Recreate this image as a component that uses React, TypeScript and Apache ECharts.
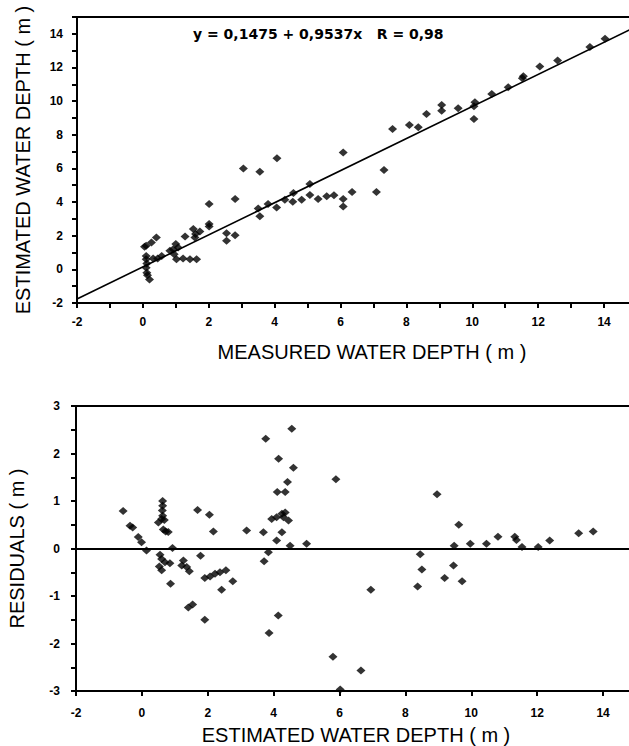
import React, { useEffect, useRef } from 'react';
import * as echarts from 'echarts';

// Top panel: measured vs estimated water depth (m)
const measuredDepth = [
  0.05, 0.1, 0.26, 0.41, 0.1, 0.1, 0.12, 0.1, 0.12, 0.14, 0.2, 0.31, 0.45, 0.57,
  0.82, 0.92, 1.0, 1.07, 1.02, 1.22, 1.43, 1.63, 0.95,
  1.28, 1.53, 1.73, 1.58, 1.6,
  2.01, 2.01, 2.01,
  2.54, 2.54, 2.8, 2.8,
  3.05, 3.55, 4.07,
  3.5, 3.55, 3.8, 4.06, 4.31, 4.57, 4.55, 4.82, 5.07, 5.07, 5.32, 5.58, 5.8, 6.08, 6.08, 6.35, 6.08, 7.09, 7.32,
  7.58, 8.09, 8.36, 8.61, 9.07, 9.07, 9.57, 10.08, 10.05, 10.05, 10.59, 11.09, 11.55, 11.52, 12.05, 12.59, 13.57, 14.03,
];
const estimatedDepth = [
  1.35, 1.4, 1.6, 1.9, 0.8, 0.6, 0.35, 0.1, -0.2, -0.35, -0.6, 0.65, 0.65, 0.8,
  1.1, 1.2, 1.5, 1.3, 0.6, 0.65, 0.6, 0.6, 0.9,
  1.95, 2.4, 2.25, 1.9, 2.1,
  3.88, 2.7, 2.55,
  2.15, 1.7, 2.03, 4.18,
  6.0, 5.8, 6.6,
  3.62, 3.15, 3.88, 3.68, 4.14, 4.54, 4.02, 4.14, 5.07, 4.42, 4.18, 4.34, 4.4, 4.18, 3.74, 4.6, 6.94, 4.6, 5.9,
  8.34, 8.58, 8.44, 9.24, 9.77, 9.43, 9.57, 9.93, 9.69, 8.94, 10.43, 10.83, 11.48, 11.36, 12.06, 12.42, 13.21, 13.71,
];
const regIntercept = 0.1475;
const regSlope = 0.9537;
const regLineX = [-2, 15];

// Bottom panel: estimated depth vs residuals (m)
const residualX = [
  -0.57, -0.36, -0.28, -0.11, -0.01, 0.14,
  0.63, 0.63, 0.62, 0.63, 0.6, 0.5, 0.68, 0.65, 0.72, 0.8,
  0.93, 0.55, 0.6, 0.7, 0.85, 0.53, 0.6, 0.87,
  1.26, 1.21, 1.36, 1.44, 1.78,
  1.91, 2.07, 2.22, 2.37, 2.55, 2.42, 2.76,
  1.41, 1.54, 1.91,
  1.69, 2.05, 2.17, 3.18, 3.69,
  3.76, 4.55, 4.15, 4.6, 4.42, 4.11, 4.35,
  3.94, 4.09, 4.25, 4.35, 4.45, 4.3,
  4.25, 4.09, 4.5, 5.0, 3.84, 3.71, 4.14, 3.86,
  5.89, 5.8, 6.65, 6.02, 6.95,
  8.45, 8.5, 8.37, 8.96, 9.19, 9.46, 9.72, 9.62, 9.48, 9.97, 10.46, 10.81, 11.32, 11.37, 11.54, 12.03, 12.38, 13.26, 13.7,
];
const residualY = [
  0.79, 0.48, 0.44, 0.24, 0.13, -0.04,
  1.0, 0.9, 0.8, 0.69, 0.62, 0.55, 0.6, 0.4, 0.36, 0.35,
  0.01, -0.13, -0.22, -0.29, -0.31, -0.38, -0.46, -0.74,
  -0.25, -0.36, -0.39, -0.48, -0.15,
  -0.62, -0.59, -0.53, -0.5, -0.46, -0.87, -0.69,
  -1.24, -1.18, -1.5,
  0.81, 0.71, 0.36, 0.38, 0.34,
  2.31, 2.52, 1.89, 1.7, 1.4, 1.19, 1.19,
  0.62, 0.66, 0.73, 0.76, 0.59, 0.66,
  0.34, 0.17, 0.06, 0.1, -0.08, -0.27, -1.41, -1.78,
  1.46, -2.28, -2.57, -2.97, -0.87,
  -0.12, -0.44, -0.8, 1.14, -0.62, -0.36, -0.69, 0.5, 0.06, 0.1, 0.1, 0.25, 0.25, 0.18, 0.03, 0.03, 0.17, 0.32, 0.36,
];
const residualZero = 0;

const equationText = 'y = 0,1475 + 0,9537x   R = 0,98';
const topXTitle = 'MEASURED WATER DEPTH ( m )';
const topYTitle = 'ESTIMATED WATER DEPTH ( m )';
const bottomXTitle = 'ESTIMATED WATER DEPTH ( m )';
const bottomYTitle = 'RESIDUALS ( m )';

export default function App() {
  const ref = useRef<HTMLDivElement>(null);
  useEffect(() => {
    if (!ref.current) return;
    const chart = echarts.init(ref.current, null, { renderer: 'svg' });
    const evenOnly = (v: number) => (v % 2 === 0 && v <= 14 ? String(v) : '');
    const nameStyle = { color: '#000', fontFamily: 'Liberation Sans', fontSize: 20, fontWeight: 'normal' };
    chart.setOption({
      animation: false,
      title: {
        text: equationText, left: 193, top: 27, padding: 0,
        textStyle: { color: '#000', fontFamily: 'DejaVu Sans', fontWeight: 'bold', fontSize: 14 },
      },
      grid: [
        { left: 77, top: 17, right: -8, bottom: 443, outerBoundsMode: 'none' },
        { left: 76, top: 406, right: -7, bottom: 55, outerBoundsMode: 'none' },
      ],
      xAxis: [
        { type: 'value', gridIndex: 0, min: -2, max: 15, interval: 1,
          name: topXTitle, nameLocation: 'middle', nameGap: 39,
          nameTextStyle: { ...nameStyle, padding: [0, 0, 0, 30] },
          axisLine: { show: true, onZero: false, lineStyle: { color: '#000', width: 2 } },
          axisTick: { show: true, length: 5, lineStyle: { color: '#000', width: 2 } },
          splitLine: { show: false },
          axisLabel: { color: '#000', fontWeight: 'bold', fontSize: 12, margin: 13, formatter: evenOnly } },
        { type: 'value', gridIndex: 1, min: -2, max: 15, interval: 2,
          name: bottomXTitle, nameLocation: 'middle', nameGap: 34,
          nameTextStyle: { ...nameStyle },
          axisLine: { show: true, onZero: false, lineStyle: { color: '#000', width: 2 } },
          axisTick: { show: true, length: 5, lineStyle: { color: '#000', width: 2 } },
          splitLine: { show: false },
          axisLabel: { color: '#000', fontWeight: 'bold', fontSize: 12, margin: 16, formatter: evenOnly } },
        { type: 'value', gridIndex: 0, position: 'top', min: -2, max: 15,
          axisLine: { show: true, onZero: false, lineStyle: { color: '#000', width: 2 } },
          axisTick: { show: false }, axisLabel: { show: false }, splitLine: { show: false } },
        { type: 'value', gridIndex: 1, position: 'top', min: -2, max: 15,
          axisLine: { show: true, onZero: false, lineStyle: { color: '#000', width: 2 } },
          axisTick: { show: false }, axisLabel: { show: false }, splitLine: { show: false } },
      ],
      yAxis: [
        { type: 'value', gridIndex: 0, min: -2, max: 15, interval: 1,
          name: topYTitle, nameLocation: 'middle', nameGap: 44,
          nameTextStyle: { ...nameStyle },
          axisLine: { show: true, onZero: false, lineStyle: { color: '#000', width: 2 } },
          axisTick: { show: true, length: 5, lineStyle: { color: '#000', width: 2 } },
          splitLine: { show: false },
          axisLabel: { color: '#000', fontWeight: 'bold', fontSize: 12, margin: 14, formatter: evenOnly } },
        { type: 'value', gridIndex: 1, min: -3, max: 3, interval: 1,
          name: bottomYTitle, nameLocation: 'middle', nameGap: 49,
          nameTextStyle: { ...nameStyle },
          axisLine: { show: true, onZero: false, lineStyle: { color: '#000', width: 2 } },
          axisTick: { show: true, length: 5, lineStyle: { color: '#000', width: 2 } },
          minorTick: { show: true, splitNumber: 2, length: 5, lineStyle: { color: '#000', width: 2 } },
          splitLine: { show: false },
          axisLabel: { color: '#000', fontWeight: 'bold', fontSize: 12, margin: 16 } },
      ],
      series: [
        { type: 'scatter', xAxisIndex: 0, yAxisIndex: 0, symbol: 'diamond', symbolSize: [9, 8],
          data: measuredDepth.map((x, i) => [x, estimatedDepth[i]]),
          itemStyle: { color: '#000' },
          markLine: {
            silent: true, symbol: 'none', label: { show: false },
            lineStyle: { color: '#000', width: 1.6, type: 'solid' },
            data: [[
              { coord: [regLineX[0], regIntercept + regSlope * regLineX[0]] },
              { coord: [regLineX[1], regIntercept + regSlope * regLineX[1]] },
            ]],
          } },
        { type: 'scatter', xAxisIndex: 1, yAxisIndex: 1, symbol: 'diamond', symbolSize: [9, 8],
          data: residualX.map((x, i) => [x, residualY[i]]),
          itemStyle: { color: '#000' },
          markLine: {
            silent: true, symbol: 'none', label: { show: false },
            lineStyle: { color: '#000', width: 2, type: 'solid' },
            data: [{ yAxis: residualZero }],
          } },
      ],
    });
    return () => chart.dispose();
  }, []);
  return <div ref={ref} style={{ position: 'absolute', left: 0, top: 0, width: 629, height: 746 }} />;
}
